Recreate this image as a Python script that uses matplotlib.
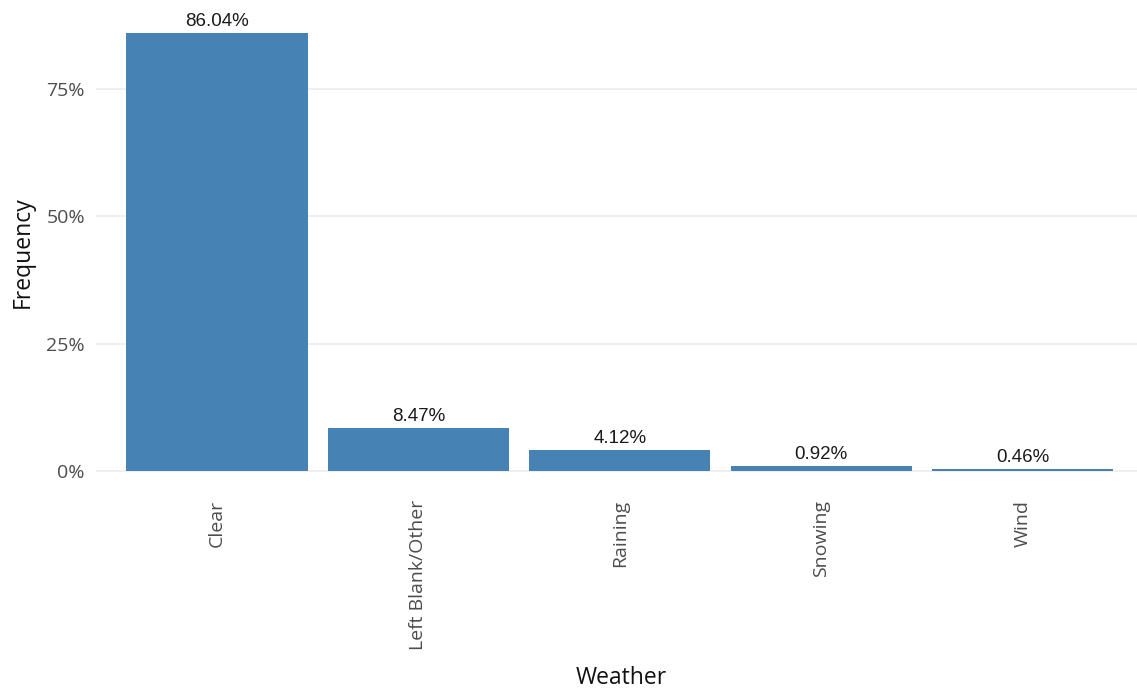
import matplotlib
matplotlib.use("Agg")
import matplotlib.pyplot as plt
from matplotlib.ticker import FuncFormatter

categories = ["Clear", "Left Blank/Other", "Raining", "Snowing", "Wind"]
values = [86.04, 8.47, 4.12, 0.92, 0.46]
yticks = [0, 25, 50, 75]

fig = plt.figure(figsize=(11.37, 6.91), dpi=100)
ax = fig.add_axes([96/1137, (691-494)/691, 1 - 96/1137, (494-10)/691])

x = range(len(categories))
ax.bar(x, values, width=0.9, color="#4682B4", zorder=2)
for xi, v in zip(x, values):
    ax.text(xi, v + 0.6, f"{v:.2f}%", ha="center", va="bottom",
            fontsize=13.5, family="Liberation Sans", color="#1a1a1a")

ax.set_xlim(-0.6, 4.568)
ax.set_ylim(-4.5, 90.5)
ax.set_yticks(yticks)
ax.yaxis.set_major_formatter(FuncFormatter(lambda v, p: f"{v:.0f}%"))
ax.set_xticks(list(x))
ax.set_xticklabels(categories, rotation=90, ha="center", va="top")
ax.grid(axis="y", color="#EBEBEB", linewidth=1.1, zorder=0)
for s in ax.spines.values():
    s.set_visible(False)
ax.tick_params(length=0)
ax.tick_params(axis="y", labelsize=14, labelcolor="#4D4D4D", pad=8)
ax.tick_params(axis="x", labelsize=14, labelcolor="#4D4D4D", pad=4)
for lbl in ax.get_xticklabels() + ax.get_yticklabels():
    lbl.set_family("Open Sans")
ax.set_xlabel("Weather", fontsize=16.5, family="Open Sans", color="#111111")
ax.set_ylabel("Frequency", fontsize=16.5, family="Open Sans", color="#111111")
ax.xaxis.set_label_coords(0.505, -0.355)
ax.yaxis.set_label_coords(-0.059, 0.5)

fig.savefig("out.png", dpi=100)
